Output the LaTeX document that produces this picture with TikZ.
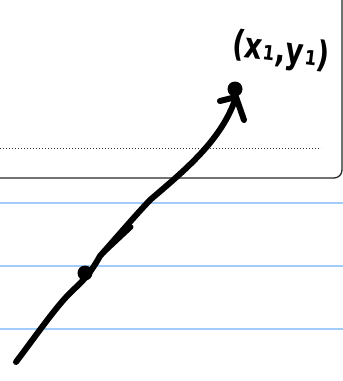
\documentclass[tikz,border=0pt]{standalone}
\usepackage{fontspec}
\newfontfamily\hand{DejaVu Sans}
\definecolor{ruleblue}{RGB}{162,204,250}
\begin{document}
\begin{tikzpicture}[x=1pt,y=-1pt,
  ink/.style={line width=6pt,line cap=round,line join=round,black},
  rule/.style={line width=1.6pt,color=ruleblue},
  frame/.style={line width=1.3pt,color=black!85},
  inkdot/.style={circle,fill=black,inner sep=0pt,minimum size=15pt}]
\useasboundingbox (0,0) rectangle (343,381);
% ruled lines
\foreach \yy/\nm in {203/ra,266/rb,329/rc}{
  \coordinate (\nm L) at (0,\yy);
  \coordinate (\nm R) at (343,\yy);
  \draw[rule] (\nm L) -- (\nm R);
}
% frame
\coordinate (fT) at (342,-2);
\coordinate (fB) at (-2,178);
\draw[frame,rounded corners=8pt] (fT) -- (342,178) -- (fB);
% dotted line
\coordinate (dL) at (0,148);
\coordinate (dR) at (321,148);
\draw[line width=1pt,dotted,black!80] (dL) -- (dR);
% points
\node[inkdot] (p0) at (85,273) {};
\node[inkdot] (p1) at (235,89) {};
\coordinate (s) at (16,362);
\coordinate (m) at (150,200);
\coordinate (t) at (236,97);
\coordinate (bl) at (220,101);
\coordinate (br) at (244,120);
\coordinate (e1) at (100,256);
\coordinate (e2) at (131,227);
% main stroke
\draw[ink] (s) .. controls (35,337) and (55,308) .. (70,293)
  .. controls (78,285) and (88,278) .. (e1)
  .. controls (117,237) and (133,218) .. (m)
  .. controls (185,170) and (222,140) .. (t);
\draw[ink,line width=5pt] (e1) -- (e2);
% arrow head
\draw[ink] (bl) -- (t) -- (br);
% label
\node[font=\hand\bfseries\fontsize{36}{36}\selectfont,rotate=-7,xscale=0.76,inner sep=0pt] (lab) at (281,52) {(x\kern2pt₁,y\kern2pt₁)};
\end{tikzpicture}
\end{document}
